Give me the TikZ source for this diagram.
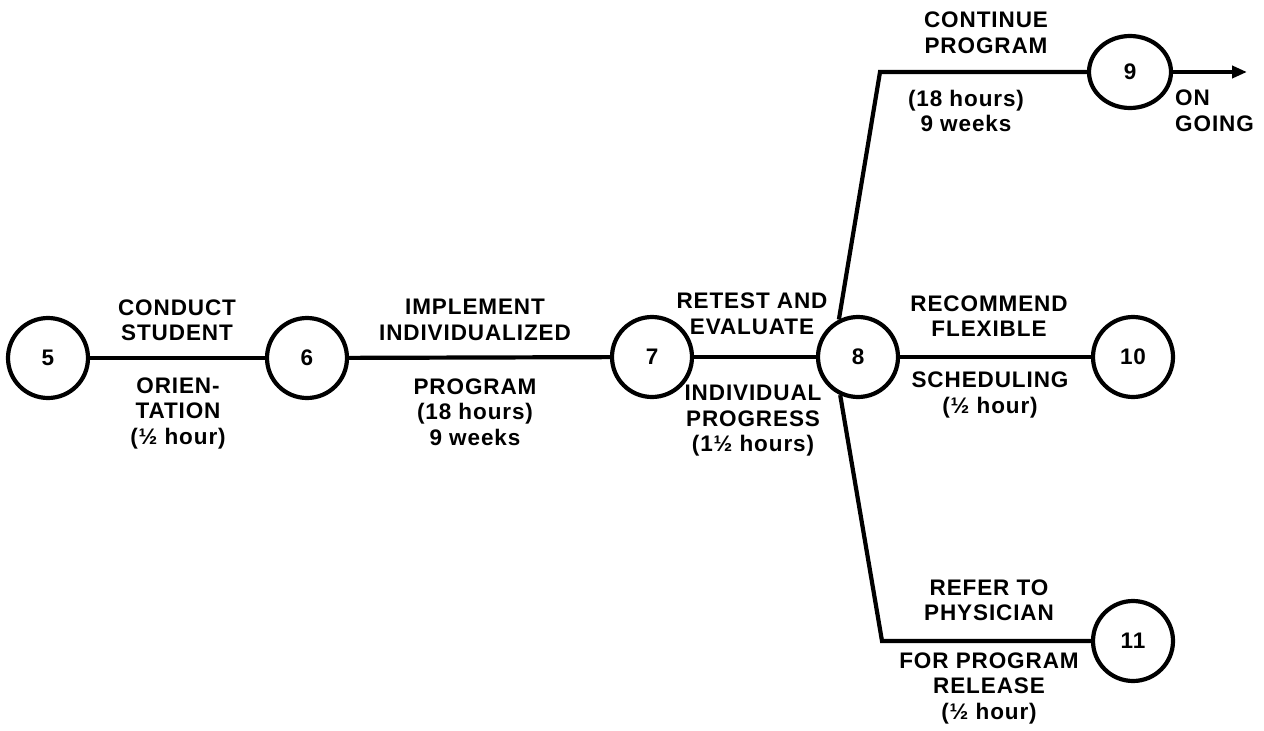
\documentclass[tikz,border=0pt]{standalone}
\usepackage{fontspec}
\setmainfont{Liberation Sans}[LetterSpace=4]
\usetikzlibrary{arrows.meta,shapes.geometric}
\begin{document}
\begin{tikzpicture}[x=1pt,y=-1pt,
  font=\fontsize{22.5}{25.5}\selectfont\bfseries,
  event/.style={circle,draw,line width=4.2pt,minimum size=80pt,inner sep=0pt},
  activity/.style={line width=4.2pt},
  label/.style={align=center,inner sep=0pt}]
\useasboundingbox (0,0) rectangle (1264,731);

% events
\node[event] (n5) at (48,358) {5};
\node[event] (n6) at (307,358) {6};
\node[event] (n7) at (652,357) {7};
\node[event] (n8) at (858,357) {8};
\node[event,ellipse,minimum width=82pt,minimum height=72pt] (n9) at (1130,72) {9};
\node[event] (n10) at (1133,357) {10};
\node[event] (n11) at (1133,641) {11};

\coordinate (c9) at (880,72);
\coordinate (c11) at (882,641);
\coordinate (onward) at (1247,72);

% activities
\draw[activity] (n5) -- (n6);
\draw[activity] (n6) -- (n7);
\draw[activity] (n7) -- (n8);
\draw[activity] (n8) -- (n10);
\draw[activity,line join=miter] (n8.117) -- (c9) -- (n9);
\draw[activity,line join=miter] (n8.245) -- (c11) -- (n11);
\draw[activity,-{Triangle[length=15pt,width=12pt]}] (n9) -- (onward);

% activity descriptions
\node[label] (l56a) at (177,320) {CONDUCT\\STUDENT};
\node[label] (l56b) at (178,413) {ORIEN-\\TATION\\(½ hour)};
\node[label] (l67a) at (475,320) {IMPLEMENT\\INDIVIDUALIZED};
\node[label] (l67b) at (475,412) {PROGRAM\\(18 hours)\\9 weeks};
\node[label] (l78a) at (752,314) {RETEST AND\\EVALUATE};
\node[label] (l78b) at (753,421) {INDIVIDUAL\\PROGRESS\\(1½ hours)};
\node[label] (l89a) at (986,33) {CONTINUE\\PROGRAM};
\node[label] (l89b) at (966,111) {(18 hours)\\9 weeks};
\node[label,align=left,anchor=west] (l9on) at (1175,111) {ON\\GOING};
\node[label] (l810a) at (989,316) {RECOMMEND\\FLEXIBLE};
\node[label] (l810b) at (990,395) {SCHEDULING\\(½ hour)};
\node[label] (l811a) at (989,600) {REFER TO\\PHYSICIAN};
\node[label] (l811b) at (989,688) {FOR PROGRAM\\RELEASE\\(½ hour)};
\end{tikzpicture}
\end{document}
